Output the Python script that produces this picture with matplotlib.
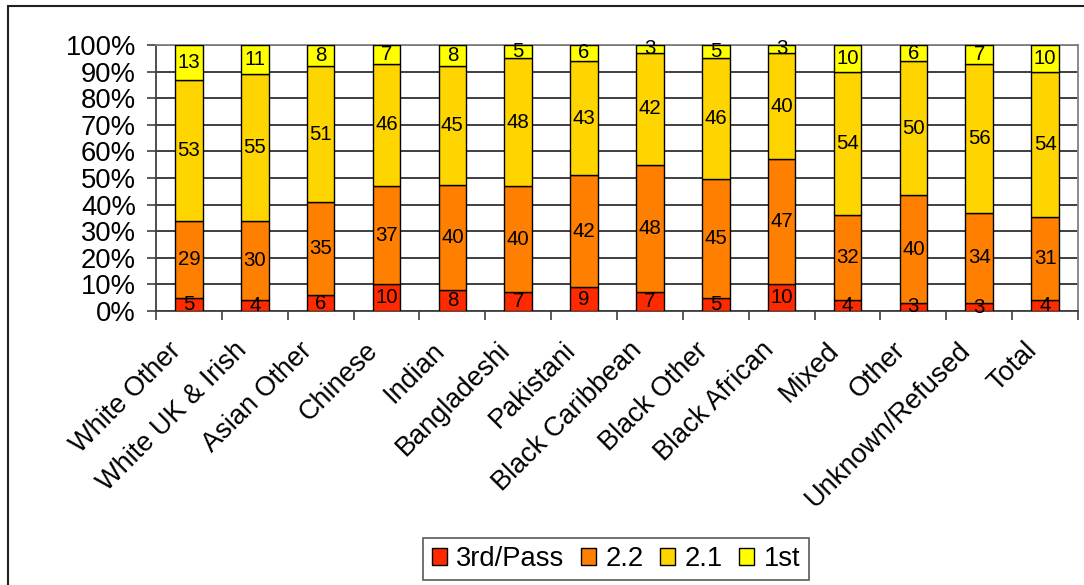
import matplotlib
matplotlib.use("Agg")
import matplotlib.pyplot as plt
import numpy as np
from matplotlib.patches import Rectangle
from matplotlib.ticker import FixedLocator, PercentFormatter
from matplotlib.transforms import ScaledTranslation

plt.rcParams['font.family'] = ['Liberation Sans', 'DejaVu Sans']

categories = ["White Other", "White UK & Irish", "Asian Other", "Chinese", "Indian",
              "Bangladeshi", "Pakistani", "Black Caribbean", "Black Other", "Black African",
              "Mixed", "Other", "Unknown/Refused", "Total"]
third_pass = [5, 4, 6, 10, 8, 7, 9, 7, 5, 10, 4, 3, 3, 4]
two_two    = [29, 30, 35, 37, 40, 40, 42, 48, 45, 47, 32, 40, 34, 31]
two_one    = [53, 55, 51, 46, 45, 48, 43, 42, 46, 40, 54, 50, 56, 54]
first      = [13, 11, 8, 7, 8, 5, 6, 3, 5, 3, 10, 6, 7, 10]
series_names = ["3rd/Pass", "2.2", "2.1", "1st"]
colors = ["#FF2A00", "#FF7F00", "#FFD500", "#FFFF00"]

data = np.array([third_pass, two_two, two_one, first], dtype=float)
totals = data.sum(axis=0)
shares = data / totals * 100

W, H = 1084, 585
fig = plt.figure(figsize=(W / 100, H / 100), dpi=100)
ax = fig.add_axes([156 / W, 1 - 311 / H, (1078 - 156) / W, (311 - 45) / H])

x = np.arange(len(categories))
bottom = np.zeros(len(categories))
for i, (name, col) in enumerate(zip(series_names, colors)):
    ax.bar(x, shares[i], 0.42, bottom=bottom, color=col, edgecolor="black",
           linewidth=1.0, label=name, zorder=3)
    for xi, b, h, v in zip(x, bottom, shares[i], data[i]):
        ax.text(xi, b + h / 2, f"{int(v)}", ha="center", va="center", fontsize=14.7,
                zorder=4)
    bottom += shares[i]

ax.set_xlim(-0.5, len(categories) - 0.5)
ax.set_ylim(0, 100)
ax.yaxis.set_major_locator(FixedLocator(np.arange(0, 101, 10)))
ax.yaxis.set_major_formatter(PercentFormatter(decimals=0))
ax.tick_params(axis="y", labelsize=19.7, length=6.5, width=1.2, color="#404040", pad=8)
ax.grid(axis="y", color="#303030", linewidth=1.3, zorder=0)

ax.set_xticks(x)
ax.set_xticklabels(categories, rotation=45, ha="right", va="center",
                   rotation_mode="anchor", fontsize=19.5)
ax.tick_params(axis="x", which="major", length=0, pad=27)
shift = ScaledTranslation(-12 / 100, 2 / 100, fig.dpi_scale_trans)
for lbl in ax.get_xticklabels():
    lbl.set_transform(lbl.get_transform() + shift)
ax.set_xticks(np.arange(-0.5, len(categories), 1), minor=True)
ax.tick_params(axis="x", which="minor", length=6.5, width=1.2, color="#404040")

for side in ["left", "bottom"]:
    ax.spines[side].set_color("#404040")
    ax.spines[side].set_linewidth(1.3)
for side in ["top", "right"]:
    ax.spines[side].set_color("#808080")
    ax.spines[side].set_linewidth(1.3)

# chart area border
fig.patches.append(Rectangle((8 / W, -0.1), 1.2, 1 - 6 / H + 0.1, transform=fig.transFigure,
                             fill=False, edgecolor="#202020", linewidth=1.5))

leg = fig.legend(loc="center", bbox_to_anchor=(616 / W, 1 - 559 / H), ncol=4,
                 fontsize=19.7, frameon=True, fancybox=False, edgecolor="#303030",
                 handlelength=0.55, handleheight=0.55, handletextpad=0.35,
                 columnspacing=0.6, borderpad=0.3, borderaxespad=0)
leg.get_frame().set_linewidth(1.2)

fig.savefig("out.png", dpi=100)
